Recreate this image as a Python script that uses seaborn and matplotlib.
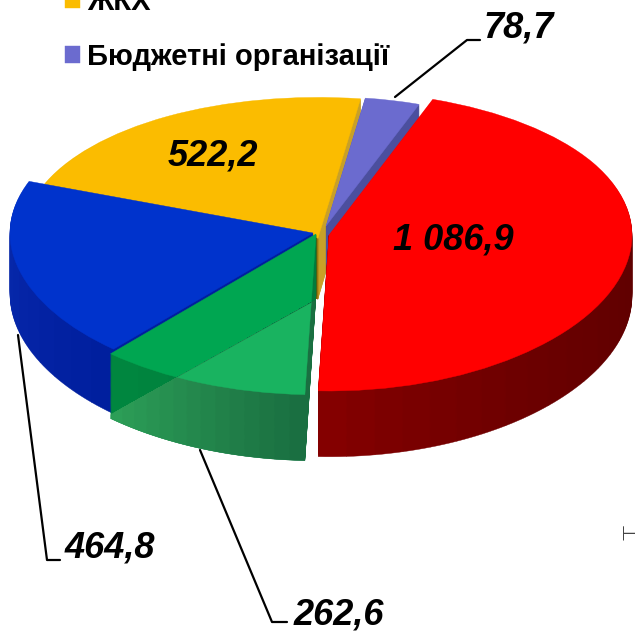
import numpy as np
import seaborn as sns
import matplotlib
matplotlib.use("Agg")
import matplotlib.pyplot as plt
from matplotlib.colors import to_rgb
from matplotlib.lines import Line2D
from matplotlib.patches import Polygon

sns.set_theme(style="white")
plt.rcParams['font.family'] = ['Liberation Sans', 'DejaVu Sans']

# data
slices = ["Бюджетні організації", "Red", "Green", "Blue", "ЖКХ"]
values = [78.7, 1086.9, 262.6, 464.8, 522.2]
value_labels = ["78,7", "1 086,9", "262,6", "464,8", "522,2"]
legend_labels = ["ЖКХ", "Бюджетні організації"]
top_colors = ["#6B6BCF", "#FF0000", "#00A651", "#0033CC", "#FBBC00"]

W, H = 635, 633
fig = plt.figure(figsize=(W / 100, H / 100), dpi=100, facecolor="white")
ax = fig.add_axes([0, 0, 1, 1])

CY = 235.0
A, P = 0.495, 6.5e-5
def fwd(y):
    y = np.asarray(y, dtype=float)
    return A * y - P * y * y
def inv(s):
    s = np.asarray(s, dtype=float)
    return (A - np.sqrt(np.maximum(A * A - 4 * P * s, 1e-9))) / (2 * P)

total = sum(values)
START = 81.7
cum = np.concatenate([[0], np.cumsum(values)])
starts = {i: START - cum[i] / total * 360 for i in range(5)}

def piece(i, px, py, color_list, radius):
    """One slice of the pie, drawn by ax.pie, split for shading."""
    n = len(color_list)
    vals = [values[i] / n] * n + [total - values[i]]
    w, _ = ax.pie(vals, startangle=starts[i], counterclock=False, radius=radius,
                  center=(px, float(inv(CY - py))),
                  colors=list(color_list) + ["white"],
                  wedgeprops=dict(linewidth=0.3))
    for k, wd in enumerate(w):
        wd.set_edgecolor(color_list[min(k, n - 1)])
    w[-1].remove()
    return w[:-1]

def grad(c0, c1, n=14, power=1.0):
    a, b = np.array(to_rgb(c0)), np.array(to_rgb(c1))
    return [tuple(a + (b - a) * (t ** power)) for t in np.linspace(0, 1, n)]

DEPTH = 61
geom = {  # apex px, apex py, radius
    4: (318, 238, 295),
    0: (326, 226, 272),
    3: (313, 233, 303),
    1: (329, 235, 303),
    2: (316, 234, 312),
}
walls = {
    4: grad("#6B5200", "#C8A028", 10, 2),
    0: grad("#4B4F9E", "#4B4F9E", 2),
    3: grad("#001F9E", "#0A2BB0", 12),
    1: grad("#5C0000", "#840000", 30, 3),
    2: grad("#007A3C", "#00863F", 6),
}
tops = {}
for i in [4, 0, 3, 1, 2]:
    px, py, r = geom[i]
    for d in range(DEPTH, 0, -1):
        piece(i, px, py + d, walls[i], r)
    tops[i] = piece(i, px, py, [top_colors[i]], r)[0]

# lighter band across the green slice
band_xy = np.array([[90, 426], [316, 300], [345, 284], [345, 500], [90, 500]]) / [W, H] * [1, -1] + [0, 1]
band = Polygon(band_xy, transform=ax.transAxes, closed=True)
px, py, r = geom[2]
light = grad("#1A6F41", "#2C9E57", 14)
for d in range(DEPTH, 0, -1):
    for wd in piece(2, px, py + d, light, r):
        wd.set_clip_on(True)
        wd.set_clip_path(band)
topw = piece(2, px, py, ["#19B360"], r)[0]
topw.set_clip_on(True)
topw.set_clip_path(band)

ax.set_aspect("auto")
ax.set_yscale("function", functions=(fwd, inv))
ax.set_xlim(0, W)
ax.set_ylim(float(inv(CY - H)), float(inv(CY)))
ax.set_xticks([]); ax.set_yticks([])
ax.axis("off")

def fx(x): return x / W
def fy(y): return 1 - y / H

# value labels
lab = dict(fontsize=26, fontweight="bold", fontstyle="italic", color="black", ha="left", va="center")
label_pos = [(483, 28), (393, 240), (294, 615), (65, 548), (168, 156)]
for t, (x, y) in zip(value_labels, label_pos):
    fig.text(fx(x), fy(y), t, **lab)

# leader lines
for xs, ys in [((395, 467, 480), (97, 40, 40)),
               ((18, 47, 60), (335, 560, 560)),
               ((200, 272, 287), (450, 622, 622))]:
    fig.add_artist(Line2D([fx(v) for v in xs], [fy(v) for v in ys], color="black", lw=1.6))

# legend
leg = fig.legend([tops[4], tops[0]], legend_labels, loc="upper left",
                 bbox_to_anchor=(fx(65), fy(-12)), frameon=False,
                 prop=dict(size=21, weight="bold"), labelspacing=0.91, labelcolor="black",
                 handlelength=0.5, handleheight=0.5, handletextpad=0.26, borderpad=0, borderaxespad=0)

# clipped fragment at the right edge
fig.text(fx(622), fy(532), "Т", rotation=90, fontsize=18, color="#444444", ha="left", va="center",
         family="DejaVu Sans", fontweight="light")

fig.savefig("out.png", dpi=100)
